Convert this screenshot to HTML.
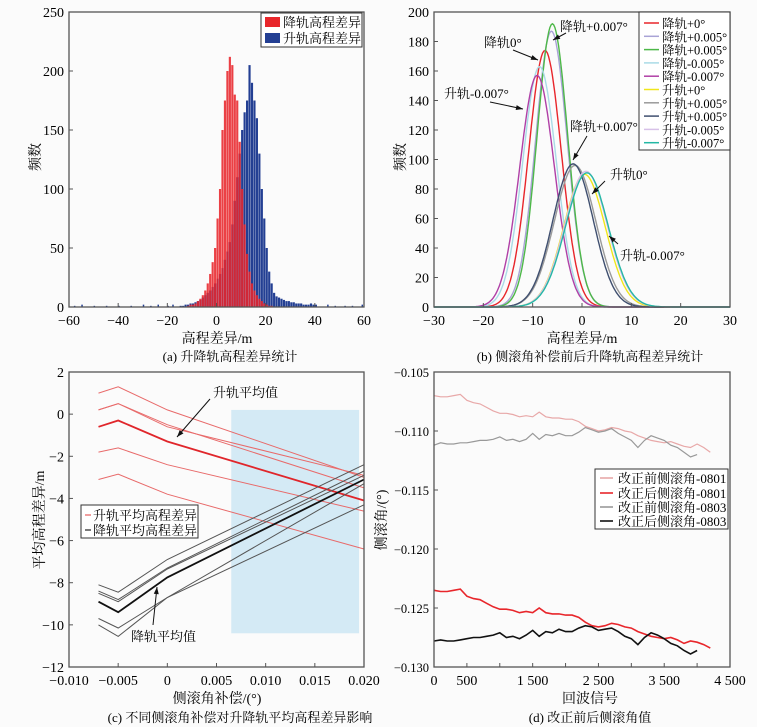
<!DOCTYPE html>
<html><head><meta charset="utf-8">
<style>
html,body{margin:0;padding:0;background:#fbfbfb;}
svg{display:block;font-family:"Liberation Serif","Noto Serif CJK SC",serif;}
</style></head>
<body>
<svg id="fig" width="757" height="727" viewBox="0 0 757 727" xmlns="http://www.w3.org/2000/svg">
<rect x="0" y="0" width="757" height="727" fill="#fbfbfb"/>
<g id="pa"></g>
<g id="pb"></g>
<g id="pc"></g>
<g id="pd"></g>
<text x="230" y="361" font-size="13" text-anchor="middle">(a) 升降轨高程差异统计</text>
<text x="590" y="361" font-size="13" text-anchor="middle">(b) 侧滚角补偿前后升降轨高程差异统计</text>
<text x="240" y="722" font-size="13" text-anchor="middle">(c) 不同侧滚角补偿对升降轨平均高程差异影响</text>
<text x="590" y="722" font-size="13" text-anchor="middle">(d) 改正前后侧滚角值</text>
</svg>
<script>
// ---------- Panel A data ----------
const histBinStartRed = -12;
const histRed = [1,2,2,3,5,7,10,14,20,28,38,50,75,100,150,175,200,212,205,180,175,140,100,70,45,30,20,14,10,7,5,3,2,1,1];
const histBinStartBlue = -15;
const histBlue = [1,1,2,2,3,3,4,5,6,8,10,12,14,17,20,24,28,33,40,47,55,70,90,110,130,150,165,175,205,190,175,160,130,100,75,50,30,20,12,9,8,7,6,5,5,4,4,3,3,3,2,2,2,3,2,2];
const histTailX = [-58,-55,-50,-45,-40,-35,-30,-27,-24,-20,-18,45,48,52,55,59];
const histTailV = [1,2,1,1,1,1,2,1,2,1,2,2,1,1,1,2];
const aXTicks = [-60,-40,-20,0,20,40,60];
const aYTicks = [0,50,100,150,200,250];
// ---------- Panel B data ----------
const bNames = ["降轨+0°","降轨+0.005°","降轨+0.005°","降轨-0.005°","降轨-0.007°","升轨+0°","升轨+0.005°","升轨+0.005°","升轨-0.005°","升轨-0.007°"];
const bMeans = [-7.5,-6.2,-6.0,-8.6,-9.1,0.5,-1.4,-1.8,0.8,1.0];
const bSigmas = [3.3,3.2,3.1,3.4,3.5,4.2,4.2,4.1,4.3,4.3];
const bPeaks = [174,187,192,163,157,90,96,97,92,91];
const bColors = ["#e8262b","#a9a3d6","#4db848","#aadbe6","#b03fa6","#f0e61c","#9a9a9a","#3f4f6f","#d7c1e8","#24b8a5"];
const bXTicks = [-30,-20,-10,0,10,20,30];
const bYTicks = [0,20,40,60,80,100,120,140,160,180,200];
// ---------- Panel C data ----------
const cX = [-0.007,-0.005,0,0.02];
const cRedThin = [[1.0,1.3,0.2,-3.0],[0.2,0.5,-0.5,-3.5],[-1.8,-1.6,-2.4,-4.6],[-3.1,-2.85,-3.8,-6.4],[0.2,0.5,-0.6,-2.9]];
const cRedMean = [-0.6,-0.3,-1.3,-4.1];
const cBlackThin = [[-8.1,-8.45,-6.9,-2.4],[-8.4,-8.8,-7.3,-2.7],[-8.5,-8.9,-7.35,-2.9],[-9.7,-10.15,-8.7,-3.3],[-10.0,-10.55,-8.7,-4.3]];
const cBlackMean = [-8.9,-9.4,-7.75,-3.1];
const cXTicks = [-0.010,-0.005,0,0.005,0.010,0.015,0.020];
const cXTickLabels = ["−0.010","−0.005","0","0.005","0.010","0.015","0.020"];
const cYTicks = [-12,-10,-8,-6,-4,-2,0,2];
const cShade = [0.0065,0.0195,0.2,-10.4];
// ---------- Panel D data ----------
const dPre0801 = [-0.1070,-0.1071,-0.1071,-0.1070,-0.1069,-0.1074,-0.1076,-0.1077,-0.1080,-0.1083,-0.1085,-0.1085,-0.1086,-0.1088,-0.1087,-0.1088,-0.1084,-0.1088,-0.1089,-0.1089,-0.1090,-0.1090,-0.1092,-0.1096,-0.1098,-0.1100,-0.1099,-0.1097,-0.1098,-0.1100,-0.1101,-0.1104,-0.1106,-0.1108,-0.1109,-0.1110,-0.1109,-0.1111,-0.1113,-0.1114,-0.1111,-0.1114,-0.1118];
const dPost0801 = [-0.1235,-0.1236,-0.1236,-0.1235,-0.1234,-0.1240,-0.1242,-0.1243,-0.1246,-0.1249,-0.1251,-0.1251,-0.1252,-0.1254,-0.1253,-0.1254,-0.1250,-0.1254,-0.1255,-0.1255,-0.1256,-0.1256,-0.1258,-0.1262,-0.1265,-0.1266,-0.1265,-0.1263,-0.1264,-0.1266,-0.1267,-0.1270,-0.1272,-0.1274,-0.1275,-0.1276,-0.1275,-0.1277,-0.1280,-0.1278,-0.1279,-0.1281,-0.1284];
const dPre0803 = [-0.1112,-0.1110,-0.1111,-0.1111,-0.1110,-0.1110,-0.1109,-0.1108,-0.1108,-0.1107,-0.1105,-0.1108,-0.1107,-0.1109,-0.1107,-0.1102,-0.1107,-0.1103,-0.1104,-0.1102,-0.1104,-0.1104,-0.1101,-0.1097,-0.1099,-0.1101,-0.1100,-0.1098,-0.1102,-0.1105,-0.1108,-0.1114,-0.1108,-0.1104,-0.1106,-0.1108,-0.1112,-0.1114,-0.1118,-0.1122,-0.1120];
const dPost0803 = [-0.1278,-0.1277,-0.1278,-0.1278,-0.1277,-0.1276,-0.1275,-0.1275,-0.1274,-0.1273,-0.1271,-0.1275,-0.1274,-0.1276,-0.1273,-0.1269,-0.1274,-0.1270,-0.1271,-0.1268,-0.1270,-0.1270,-0.1267,-0.1265,-0.1266,-0.1269,-0.1268,-0.1267,-0.1270,-0.1274,-0.1276,-0.1281,-0.1275,-0.1271,-0.1273,-0.1276,-0.1280,-0.1282,-0.1286,-0.1289,-0.1286];
const dStep = 100;
const dXTicks = [0,500,1000,1500,2000,2500,3000,3500,4000,4500];
const dXTickLabels = ["0","500","","1 500","","2 500","","3 500","","4 500"];
const dYTicks = [-0.130,-0.125,-0.120,-0.115,-0.110,-0.105];
const dYTickLabels = ["−0.130","−0.125","−0.120","−0.115","−0.110","−0.105"];

const NS="http://www.w3.org/2000/svg";
function mk(parent, tag, attrs, txt){
  const e=document.createElementNS(NS,tag);
  for(const k in attrs) e.setAttribute(k,attrs[k]);
  if(txt!==undefined) e.textContent=txt;
  parent.appendChild(e); return e;
}
function scale(d0,d1,r0,r1){return v=>r0+(v-d0)/(d1-d0)*(r1-r0);}
function fmt(v){return v<0?"−"+Math.abs(v):String(v);}
function frame(g,box,name){
  const r=mk(g,"rect",{x:box.l,y:box.t,width:box.r-box.l,height:box.b-box.t,fill:"none",stroke:"#555","stroke-width":1.3});
  
  
}
function xTicks(g,box,sx,ticks,labels){
  ticks.forEach((t,i)=>{
    const x=sx(t);
    const l=mk(g,"line",{x1:x,x2:x,y1:box.b,y2:box.b-4,stroke:"#555"});
    
    
    const lab=labels?labels[i]:fmt(t);
    if(lab!==""){
      const tx=mk(g,"text",{x:x,y:box.b+18,"font-size":14,"text-anchor":"middle"},lab);
      
      
    }
  });
}
function yTicks(g,box,sy,ticks,labels,fs){
  ticks.forEach((t,i)=>{
    const y=sy(t);
    const l=mk(g,"line",{x1:box.l,x2:box.l+4,y1:y,y2:y,stroke:"#555"});
    
    
    const tx=mk(g,"text",{x:box.l-5,y:y+5,"font-size":fs||14,"text-anchor":"end"},labels?labels[i]:fmt(t));
    
    
  });
}
function label(g,x,y,txt,rot,name){
  const t=mk(g,"text",{x:x,y:y,"font-size":14,"text-anchor":"middle",transform:rot?`rotate(-90 ${x} ${y})`:""},txt);
  
  
}
function arrow(g,x1,y1,x2,y2){
  const l=mk(g,"line",{x1,y1,x2,y2,stroke:"#111","stroke-width":1});
  
  
  const a=Math.atan2(y2-y1,x2-x1),s=7,w=2.5;
  const p=[[x2,y2],[x2-s*Math.cos(a)+w*Math.sin(a),y2-s*Math.sin(a)-w*Math.cos(a)],[x2-s*Math.cos(a)-w*Math.sin(a),y2-s*Math.sin(a)+w*Math.cos(a)]];
  const h=mk(g,"polygon",{points:p.map(q=>q.join(",")).join(" "),fill:"#111"});
  
  
}
function note(g,x,y,txt,size){
  const t=mk(g,"text",{x,y,"font-size":size||13},txt);
  
  
}

// ---------- Panel A ----------
(function(){
  const g=document.getElementById("pa");
  const box={l:69,t:12,r:364,b:307};
  const sx=scale(-60,60,box.l,box.r), sy=scale(0,250,box.b,box.t);
  const drawBars=(start,vals,color,op,name)=>{
    vals.forEach((v,i)=>{
      const x0=start+i;
      const r=mk(g,"rect",{x:sx(x0),y:sy(v),width:sx(x0+1)-sx(x0)-0.3,height:sy(0)-sy(v),fill:color,"fill-opacity":op});
      
      
    });
  };
  histTailX.forEach((x,i)=>{
    const r=mk(g,"rect",{x:sx(x),y:sy(histTailV[i]),width:1.5,height:sy(0)-sy(histTailV[i]),fill:"#233f93"});
    
    
  });
  drawBars(histBinStartBlue,histBlue,"#233f93",1,"ascending-bar");
  drawBars(histBinStartRed,histRed,"#e8262b",0.88,"descending-bar");
  frame(g,box,"plot-frame-a");
  xTicks(g,box,sx,aXTicks); yTicks(g,box,sy,aYTicks);
  label(g,217,343,"高程差异/m",false,"x-axis-title-a");
  label(g,40,157,"频数",true,"y-axis-title-a");
  const lg=mk(g,"rect",{x:261,y:13,width:101,height:34,fill:"#fff",stroke:"#333"});
  
  
  [["降轨高程差异","#e8262b",17],["升轨高程差异","#233f93",33]].forEach(([t,c,y])=>{
    const s=mk(g,"rect",{x:265,y:y,width:15,height:10,fill:c});
    
    
    const tx=mk(g,"text",{x:283,y:y+10,"font-size":13},t);
    
    
  });
})();

// ---------- Panel B ----------
(function(){
  const g=document.getElementById("pb");
  const box={l:434,t:12,r:730,b:307};
  const sx=scale(-30,30,box.l,box.r), sy=scale(0,200,box.b,box.t);
  bMeans.forEach((m,i)=>{
    let d="";
    for(let x=-30;x<=30.001;x+=0.25){
      const v=bPeaks[i]*Math.exp(-0.5*Math.pow((x-m)/bSigmas[i],2));
      d+=(d?"L":"M")+sx(x).toFixed(1)+","+sy(v).toFixed(1);
    }
    const p=mk(g,"path",{d,fill:"none",stroke:bColors[i],"stroke-width":1.4});
    
    
  });
  frame(g,box,"plot-frame-b");
  xTicks(g,box,sx,bXTicks); yTicks(g,box,sy,bYTicks);
  label(g,582,343,"高程差异/m",false,"x-axis-title-b");
  label(g,405,157,"频数",true,"y-axis-title-b");
  const lg=mk(g,"rect",{x:639,y:12,width:91,height:138,fill:"#fff",stroke:"#333"});
  
  
  bNames.forEach((n,i)=>{
    const y=23+i*13.3;
    const l=mk(g,"line",{x1:644,x2:659,y1:y,y2:y,stroke:bColors[i],"stroke-width":1.5});
    
    
    const t=mk(g,"text",{x:662,y:y+5,"font-size":12.5},n);
    
    
  });
  note(g,560,31,"降轨+0.007°"); arrow(g,566,33,553,40);
  note(g,484,47,"降轨0°"); arrow(g,513,50,538,60);
  note(g,444,98,"升轨-0.007°"); arrow(g,490,102,523,109);
  note(g,570,131,"降轨+0.007°"); arrow(g,587,136,573,160);
  note(g,610,179,"升轨0°"); arrow(g,605,181,592,194);
  note(g,620,260,"升轨-0.007°"); arrow(g,618,244,609,236);
})();

// ---------- Panel C ----------
(function(){
  const g=document.getElementById("pc");
  const box={l:69,t:372,r:364,b:667};
  const sx=scale(-0.010,0.020,box.l,box.r), sy=scale(-12,2,box.b,box.t);
  const sh=mk(g,"rect",{x:sx(cShade[0]),y:sy(cShade[2]),width:sx(cShade[1])-sx(cShade[0]),height:sy(cShade[3])-sy(cShade[2]),fill:"#d4eaf5"});
  
  
  const line=(vals,color,w,name)=>{
    const d=vals.map((v,i)=>(i?"L":"M")+sx(cX[i]).toFixed(1)+","+sy(v).toFixed(1)).join("");
    const p=mk(g,"path",{d,fill:"none",stroke:color,"stroke-width":w});
    
    
  };
  cRedThin.forEach(v=>line(v,"#e86a6a",1,"ascending-line"));
  line(cRedMean,"#e0262b",1.8,"ascending-mean-line");
  cBlackThin.forEach(v=>line(v,"#555",1,"descending-line"));
  line(cBlackMean,"#111",1.8,"descending-mean-line");
  frame(g,box,"plot-frame-c");
  xTicks(g,box,sx,cXTicks,cXTickLabels); yTicks(g,box,sy,cYTicks);
  label(g,217,703,"侧滚角补偿/(°)",false,"x-axis-title-c");
  label(g,44,520,"平均高程差异/m",true,"y-axis-title-c");
  const lg=mk(g,"rect",{x:81,y:505,width:117,height:33,fill:"#fff",stroke:"#333"});
  
  
  [["升轨平均高程差异","#e86a6a",515],["降轨平均高程差异","#333",530]].forEach(([t,c,y])=>{
    const l=mk(g,"line",{x1:85,x2:91,y1:y,y2:y,stroke:c,"stroke-width":1.3});
    
    
    const tx=mk(g,"text",{x:93,y:y+5,"font-size":13},t);
    
    
  });
  note(g,213,397,"升轨平均值"); arrow(g,210,399,177,437);
  note(g,131,641,"降轨平均值"); arrow(g,153,625,157,587);
})();

// ---------- Panel D ----------
(function(){
  const g=document.getElementById("pd");
  const box={l:434,t:372,r:730,b:667};
  const sx=scale(0,4500,box.l,box.r), sy=scale(-0.105,-0.130,box.t,box.b);
  const line=(vals,color,w,name)=>{
    const d=vals.map((v,i)=>(i?"L":"M")+sx(i*dStep).toFixed(1)+","+sy(v).toFixed(1)).join("");
    const p=mk(g,"path",{d,fill:"none",stroke:color,"stroke-width":w});
    
    
  };
  line(dPre0801,"#e8a8a8",1.2,"pre-correction-0801");
  line(dPre0803,"#999",1.2,"pre-correction-0803");
  line(dPost0801,"#e8262b",1.6,"post-correction-0801");
  line(dPost0803,"#111",1.6,"post-correction-0803");
  frame(g,box,"plot-frame-d");
  xTicks(g,box,sx,dXTicks,dXTickLabels); yTicks(g,box,sy,dYTicks,dYTickLabels,12.5);
  label(g,590,703,"回波信号",false,"x-axis-title-d");
  label(g,386,520,"侧滚角/(°)",true,"y-axis-title-d");
  const lg=mk(g,"rect",{x:595,y:469,width:133,height:60,fill:"#fff",stroke:"#333"});
  
  
  [["改正前侧滚角-0801","#e8a8a8",478],["改正后侧滚角-0801","#e8262b",493],["改正前侧滚角-0803","#999",507],["改正后侧滚角-0803","#111",521]].forEach(([t,c,y])=>{
    const l=mk(g,"line",{x1:600,x2:613,y1:y,y2:y,stroke:c,"stroke-width":1.6});
    
    
    const tx=mk(g,"text",{x:618,y:y+5,"font-size":13},t);
    
    
  });
})();
</script>
</body></html>
